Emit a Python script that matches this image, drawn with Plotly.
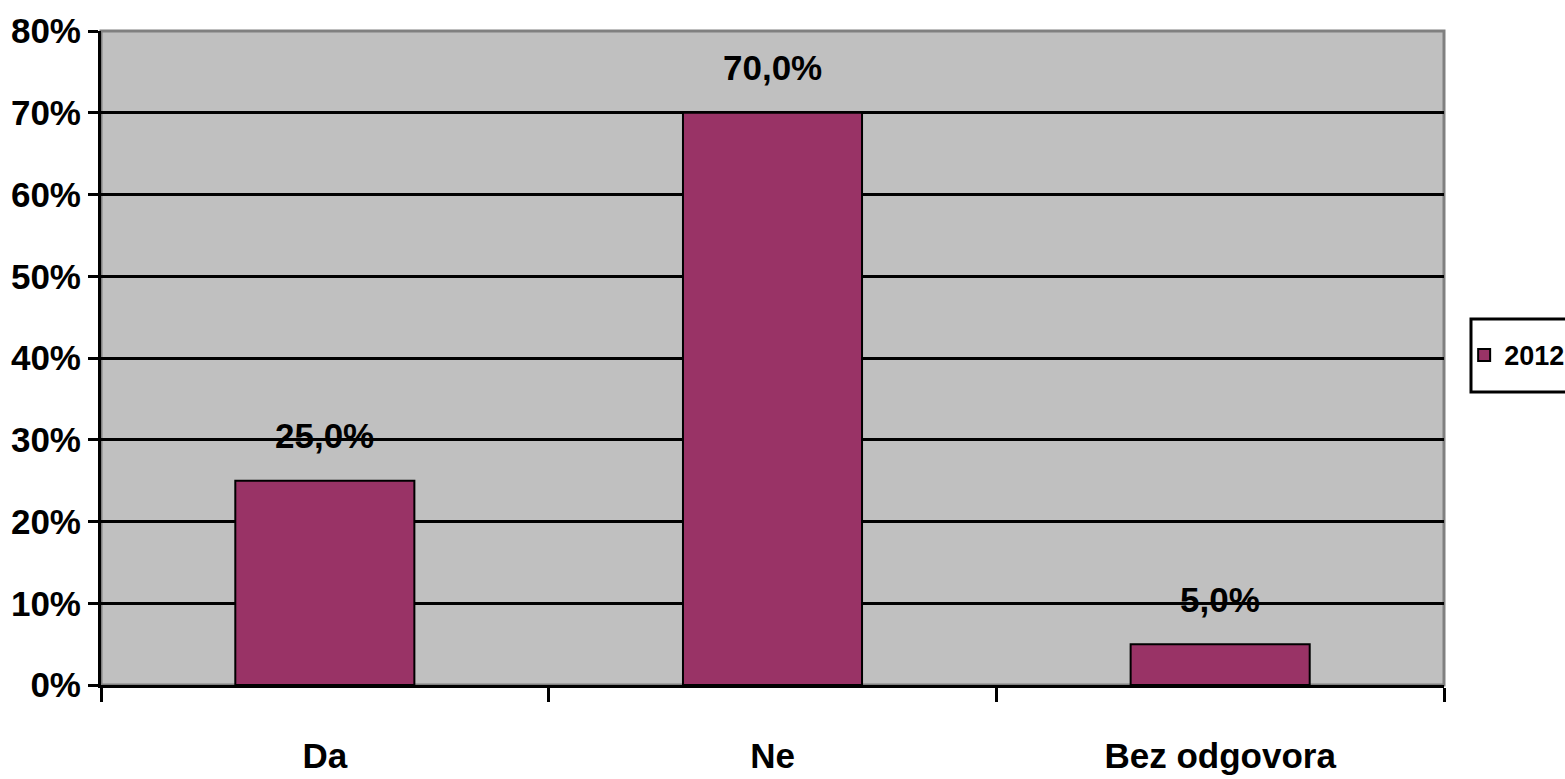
import plotly.graph_objects as go

categories = ["Da", "Ne", "Bez odgovora"]
values = [25.0, 70.0, 5.0]
labels = ["25,0%", "70,0%", "5,0%"]
series_name = "2012"
y_ticks = [0, 10, 20, 30, 40, 50, 60, 70, 80]
y_ticktext = [f"{v}%" for v in y_ticks]

FONT = "Liberation Sans Narrow, Arial Narrow, Liberation Sans, Arial, sans-serif"
FS = 35

fig = go.Figure()
fig.add_trace(go.Bar(
    x=categories, y=values, name=f"<b>{series_name}</b>", width=0.4,
    marker=dict(color="#993366", line=dict(color="black", width=2)),
    showlegend=True,
))

for c, v, t in zip(categories, values, labels):
    fig.add_annotation(x=c, y=v, text=f"<b>{t}</b>", showarrow=False,
                       yanchor="middle", yshift=45,
                       font=dict(family=FONT, size=FS, color="black"))

# plot-area border (grey top/right like the reference)
fig.add_shape(type="rect", xref="paper", yref="paper", x0=0, x1=1, y0=0, y1=1,
              line=dict(color="#808080", width=3), layer="below")
# legend frame
fig.add_shape(type="rect", xref="paper", yref="paper", x0=1.0201, x1=1.2, y0=0.448, y1=0.5596,
              line=dict(color="black", width=3), fillcolor="white", layer="below")

fig.update_layout(
    width=1565, height=779,
    margin=dict(l=101, r=121, t=31, b=94, autoexpand=False),
    paper_bgcolor="white", plot_bgcolor="#C0C0C0",
    font=dict(family=FONT, size=FS, color="black"),
    bargap=0.6,
    legend=dict(x=1.0150, y=0.504, xanchor="left", yanchor="middle",
                borderwidth=0, bgcolor="rgba(0,0,0,0)",
                font=dict(family=FONT, size=27, color="black"),
                itemwidth=30),
    xaxis=dict(
        type="category", tickson="boundaries", ticks="outside", ticklen=14,
        tickwidth=3, tickcolor="black", showline=True, linecolor="black", linewidth=3,
        showgrid=False, tickfont=dict(family=FONT, size=FS),
        ticklabelstandoff=38,
        tickvals=categories, ticktext=[f"<b>{c}</b>" for c in categories],
    ),
    yaxis=dict(
        range=[0, 80], tickvals=y_ticks, ticktext=[f"<b>{t}</b>" for t in y_ticktext],
        ticks="outside", ticklen=10, tickwidth=3, tickcolor="black",
        showline=True, linecolor="black", linewidth=3,
        showgrid=True, gridcolor="black", gridwidth=3, zeroline=False,
        tickfont=dict(family=FONT, size=FS),
    ),
)

fig.write_html("out.html", config={"displayModeBar": False},
               post_script="document.body.style.margin='0';document.body.style.overflow='hidden';")
